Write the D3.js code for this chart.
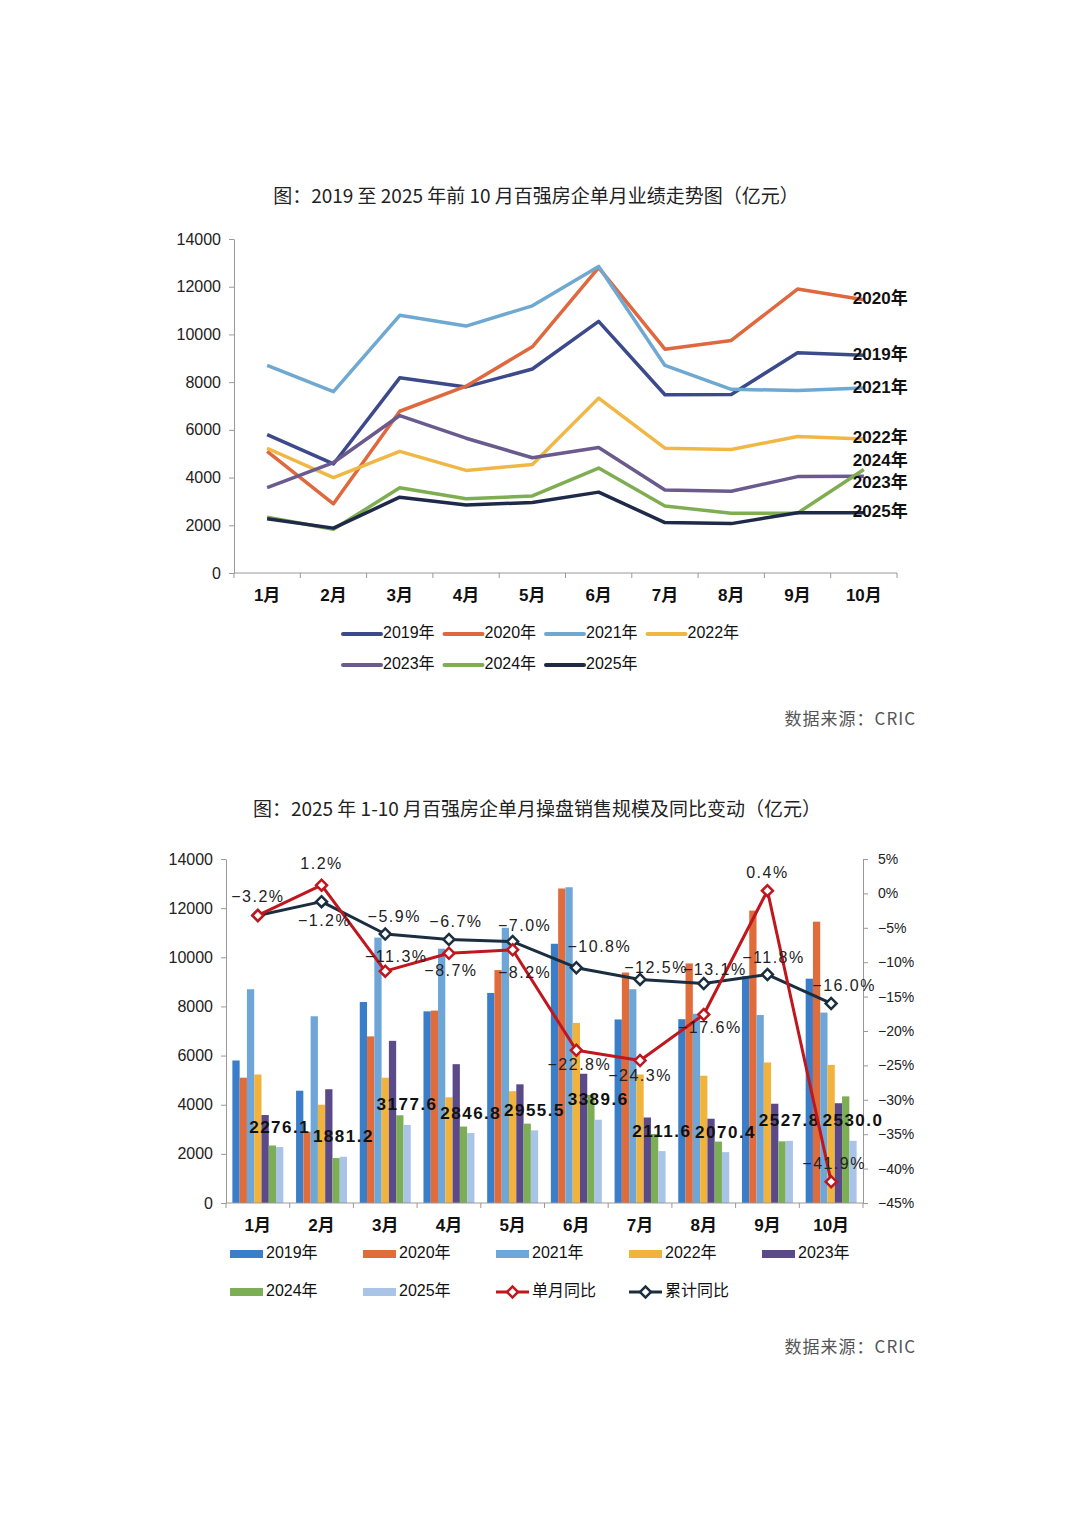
<!DOCTYPE html>
<html>
<head>
<meta charset="utf-8">
<script src="https://cdn.jsdelivr.net/npm/d3@7"></script>
<style>
  body { margin: 0; background: #fff; }
  text { font-family: "Liberation Sans", "Noto Sans CJK SC", sans-serif; }
  .cjk { font-family: "Noto Sans CJK SC", sans-serif; }
  .lbl { font-family: "Liberation Sans", sans-serif; letter-spacing: 1.5px; }
</style>
</head>
<body>
<svg id="page" width="1080" height="1527"></svg>
<script>
// data
const months = ["1月", "2月", "3月", "4月", "5月", "6月", "7月", "8月", "9月", "10月"];
const years = ["2019年", "2020年", "2021年", "2022年", "2023年", "2024年", "2025年"];
const sales2019 = [5800, 4570, 8180, 7800, 8550, 10550, 7470, 7480, 9230, 9130];
const sales2020 = [5100, 2900, 6780, 7830, 9480, 12800, 9380, 9750, 11900, 11450];
const sales2021 = [8700, 7600, 10800, 10350, 11200, 12850, 8700, 7700, 7650, 7750];
const sales2022 = [5230, 4000, 5100, 4300, 4550, 7330, 5230, 5180, 5720, 5620];
const sales2023 = [3580, 4630, 6600, 5650, 4830, 5260, 3480, 3430, 4040, 4060];
const sales2024 = [2340, 1830, 3570, 3110, 3230, 4400, 2810, 2500, 2510, 4340];
const sales2025 = [2276.1, 1881.2, 3177.6, 2846.8, 2955.5, 3389.6, 2111.6, 2070.4, 2527.8, 2530.0];
const yoyMonthly = [-3.2, 1.2, -11.3, -8.7, -8.2, -22.8, -24.3, -17.6, 0.4, -41.9];
const yoyCumulative = [-3.2, -1.2, -5.9, -6.7, -7.0, -10.8, -12.5, -13.1, -11.8, -16.0];
const salesTicks = [0, 2000, 4000, 6000, 8000, 10000, 12000, 14000];
const pctTicks = [5, 0, -5, -10, -15, -20, -25, -30, -35, -40, -45];

const allSales = [sales2019, sales2020, sales2021, sales2022, sales2023, sales2024, sales2025];
const lineColors = ["#3c4a8c", "#e0683e", "#6fa8d0", "#f0b745", "#6a5a8e", "#7fae52", "#1e2a48"];
const barColors = ["#3a7dc9", "#e06c3c", "#6fa6d8", "#f2b33d", "#5b4a8a", "#7bae55", "#a9c4e6"];
const redLine = "#c0161e", navyLine = "#1b2e3f";

let svg = d3.select("#page");
svg.append("rect").attr("width", 1080).attr("height", 1527).attr("fill", "#fff");

// ---------- chart 1: lines ----------
let x1 = d3.scalePoint().domain(months).range([234, 897]).padding(0.5);
let xb1 = d3.scaleBand().domain(months).range([234, 897]);
let y1 = d3.scaleLinear().domain([0, 14000]).range([573, 239]);

svg.append("text").attr("class", "cjk").attr("x", 536).attr("y", 198)
    .attr("text-anchor", "middle").attr("dominant-baseline", "middle")
    .attr("font-size", 19).attr("fill", "#222")
    .text("图：2019 至 2025 年前 10 月百强房企单月业绩走势图（亿元）");

let ax1 = svg.append("g").attr("transform", "translate(234,0)")
    .call(d3.axisLeft(y1).tickValues(salesTicks).tickFormat(d3.format("d"))
        .tickSize(5).tickSizeOuter(0).tickPadding(8));
ax1.selectAll("text").attr("font-size", 16).attr("fill", "#222");
ax1.selectAll("line,path").attr("stroke", "#999");

svg.append("line").attr("x1", 234).attr("x2", 897).attr("y1", 573).attr("y2", 573).attr("stroke", "#999");
svg.selectAll(".xt1").data(months.concat(["end"])).enter().append("line")
    .attr("x1", (d, i) => i < 10 ? xb1(d) : 897).attr("x2", (d, i) => i < 10 ? xb1(d) : 897)
    .attr("y1", 573).attr("y2", 578).attr("stroke", "#999");
svg.selectAll(".xl1").data(months).enter().append("text")
    .attr("x", d => x1(d)).attr("y", 597).attr("text-anchor", "middle").attr("dominant-baseline", "middle")
    .attr("font-size", 17).attr("font-weight", "bold").attr("fill", "#111").text(d => d);

let line1 = d3.line().x((d, i) => x1(months[i])).y(d => y1(d));
allSales.forEach(function (s, k) {
    svg.append("path").attr("d", line1(s)).attr("fill", "none")
        .attr("stroke", lineColors[k]).attr("stroke-width", 3.5).attr("stroke-linejoin", "round");
});

// end labels, two nudged apart so they don't collide
let endDy = [0, 0, 0, 0, 7, -8, 0];
years.forEach(function (yname, k) {
    svg.append("text").attr("x", x1("10月") - 11).attr("y", y1(allSales[k][9]) + endDy[k])
        .attr("dominant-baseline", "middle").attr("font-size", 17).attr("font-weight", "bold")
        .attr("fill", "#111").text(yname);
});

// legend 1
years.forEach(function (yname, k) {
    let lx = 343 + (k % 4) * 101.5, ly = k < 4 ? 634 : 665;
    svg.append("line").attr("x1", lx).attr("x2", lx + 38).attr("y1", ly).attr("y2", ly)
        .attr("stroke", lineColors[k]).attr("stroke-width", 4).attr("stroke-linecap", "round");
    svg.append("text").attr("x", lx + 40).attr("y", ly).attr("dominant-baseline", "middle")
        .attr("font-size", 16).attr("fill", "#111").text(yname);
});

svg.append("text").attr("class", "cjk").attr("x", 916).attr("y", 720).attr("text-anchor", "end")
    .attr("dominant-baseline", "middle").attr("font-size", 17).attr("letter-spacing", 1)
    .attr("fill", "#555").text("数据来源：CRIC");

// ---------- chart 2: bars + yoy lines ----------
let xb2 = d3.scaleBand().domain(months).range([226, 863]).paddingInner(0.2).paddingOuter(0.1);
let xe2 = d3.scaleBand().domain(months).range([226, 863]);
let inner = d3.scaleBand().domain(years).range([0, xb2.bandwidth()]);
let y2 = d3.scaleLinear().domain([0, 14000]).range([1203, 859]);
let yr = d3.scaleLinear().domain([-45, 5]).range([1203, 859]);
let xc = m => xb2(m) + xb2.bandwidth() / 2;

svg.append("text").attr("class", "cjk").attr("x", 537).attr("y", 811)
    .attr("text-anchor", "middle").attr("dominant-baseline", "middle")
    .attr("font-size", 19).attr("fill", "#222")
    .text("图：2025 年 1-10 月百强房企单月操盘销售规模及同比变动（亿元）");

let ax2 = svg.append("g").attr("transform", "translate(226,0)")
    .call(d3.axisLeft(y2).tickValues(salesTicks).tickFormat(d3.format("d"))
        .tickSize(5).tickSizeOuter(0).tickPadding(8));
ax2.selectAll("text").attr("font-size", 16).attr("fill", "#222");
ax2.selectAll("line,path").attr("stroke", "#999");

let ax3 = svg.append("g").attr("transform", "translate(863,0)")
    .call(d3.axisRight(yr).tickValues(pctTicks).tickSize(5).tickSizeOuter(0).tickPadding(10)
        .tickFormat(d => d3.format("d")(d) + "%"));
ax3.selectAll("text").attr("font-size", 14).attr("fill", "#222");
ax3.selectAll("line,path").attr("stroke", "#999");

// bars
years.forEach(function (yname, k) {
    svg.selectAll(".bar" + k).data(allSales[k]).enter().append("rect")
        .attr("x", (d, i) => xb2(months[i]) + inner(yname))
        .attr("y", d => y2(d))
        .attr("width", inner.bandwidth())
        .attr("height", d => 1203 - y2(d))
        .attr("fill", barColors[k]);
});

svg.append("line").attr("x1", 226).attr("x2", 863).attr("y1", 1203).attr("y2", 1203).attr("stroke", "#999");
svg.selectAll(".xt2").data(months.concat(["end"])).enter().append("line")
    .attr("x1", (d, i) => i < 10 ? xe2(d) : 863).attr("x2", (d, i) => i < 10 ? xe2(d) : 863)
    .attr("y1", 1203).attr("y2", 1208).attr("stroke", "#999");
svg.selectAll(".xl2").data(months).enter().append("text")
    .attr("x", d => xc(d)).attr("y", 1227).attr("text-anchor", "middle").attr("dominant-baseline", "middle")
    .attr("font-size", 17).attr("font-weight", "bold").attr("fill", "#111").text(d => d);

// 2025 value labels
svg.selectAll(".vl").data(sales2025).enter().append("text").attr("class", "lbl")
    .attr("x", (d, i) => xb2(months[i]) + inner("2025年") + inner.bandwidth() / 2)
    .attr("y", d => y2(d) - 19)
    .attr("text-anchor", "middle").attr("dominant-baseline", "middle")
    .attr("font-size", 17).attr("font-weight", "bold").attr("fill", "#111")
    .text(d => d3.format(".1f")(d));

// yoy lines
let line2 = d3.line().x((d, i) => xc(months[i])).y(d => yr(d));
let diamond = d3.symbol().type(d3.symbolSquare).size(60);
function drawYoy(vals, color) {
    svg.append("path").attr("d", line2(vals)).attr("fill", "none")
        .attr("stroke", color).attr("stroke-width", 3).attr("stroke-linejoin", "round");
    svg.selectAll(null).data(vals).enter().append("path")
        .attr("d", diamond)
        .attr("transform", (d, i) => "translate(" + xc(months[i]) + "," + yr(d) + ") rotate(45)")
        .attr("fill", "#fff").attr("stroke", color).attr("stroke-width", 2.5);
}
drawYoy(yoyCumulative, navyLine);
drawYoy(yoyMonthly, redLine);

// label offsets from each marker (null = same spot as the other series, skip)
let monthlyDx = [0, 0, 11, 2, 12, 3, 0, 6, 0, 3];
let monthlyDy = [-18, -20, -13, 19, 24, 16, 16, 14, -17, -17];
let cumDx = [null, 3, 9, 7, 12, 23, 16, 11, 6, 13];
let cumDy = [null, 20, -16, -17, -15, -20, -11, -13, -16, -17];
let pct = d => d3.format(".1f")(d) + "%";
function yoyLabels(vals, dx, dy) {
    svg.selectAll(null).data(vals.filter((d, i) => dx[i] !== null)).enter().append("text").attr("class", "lbl")
        .each(function (d) {
            let i = vals.indexOf(d);
            d3.select(this).attr("x", xc(months[i]) + dx[i]).attr("y", yr(d) + dy[i]);
        })
        .attr("text-anchor", "middle").attr("dominant-baseline", "middle")
        .attr("font-size", 16).attr("fill", "#222").text(pct);
}
yoyLabels(yoyMonthly, monthlyDx, monthlyDy);
yoyLabels(yoyCumulative, cumDx, cumDy);

// legend 2
let legendItems = years.map((y, k) => ({ name: y, kind: "bar", color: barColors[k] }))
    .concat([{ name: "单月同比", kind: "line", color: redLine }, { name: "累计同比", kind: "line", color: navyLine }]);
legendItems.forEach(function (it, k) {
    let lx = 230 + (k % 5) * 133, ly = k < 5 ? 1254 : 1292;
    if (it.kind == "bar") {
        svg.append("rect").attr("x", lx).attr("y", ly - 4).attr("width", 33).attr("height", 8).attr("fill", it.color);
    } else {
        svg.append("line").attr("x1", lx).attr("x2", lx + 33).attr("y1", ly).attr("y2", ly)
            .attr("stroke", it.color).attr("stroke-width", 3);
        svg.append("path").attr("d", diamond).attr("transform", "translate(" + (lx + 16.5) + "," + ly + ") rotate(45)")
            .attr("fill", "#fff").attr("stroke", it.color).attr("stroke-width", 2.5);
    }
    svg.append("text").attr("x", lx + 36).attr("y", ly).attr("dominant-baseline", "middle")
        .attr("font-size", 16).attr("fill", "#111").text(it.name);
});

svg.append("text").attr("class", "cjk").attr("x", 916).attr("y", 1348).attr("text-anchor", "end")
    .attr("dominant-baseline", "middle").attr("font-size", 17).attr("letter-spacing", 1)
    .attr("fill", "#555").text("数据来源：CRIC");
</script>
</body>
</html>
